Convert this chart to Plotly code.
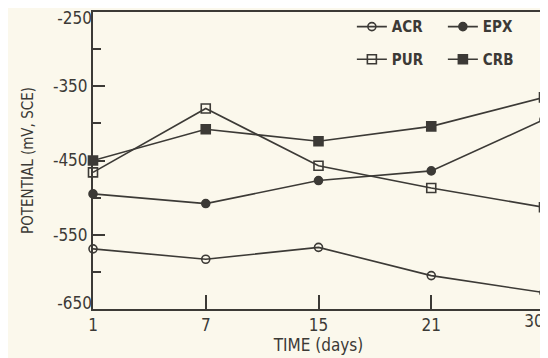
import plotly.graph_objects as go

days = ["1", "7", "15", "21", "30"]
acr = [-569, -583, -567, -605, -628]
epx = [-495, -508, -477, -464, -395]
pur = [-466, -380, -457, -487, -513]
crb = [-450, -408, -424, -404, -365]

ytickvals = [-250, -350, -450, -550, -650]
yticktext = ["-250", "-350", "-450", "-550", "-650"]
yminor = [-300, -400, -500, -600]

ink = "#3c3a36"
bg = "#fbf8ec"
font = "DejaVu Sans Condensed, Liberation Sans, Arial, sans-serif"
yrange = [ytickvals[-1], ytickvals[0]]

fig = go.Figure()
series = [
    ("ACR", acr, "circle-open", 8, "legend"),
    ("EPX", epx, "circle", 8, "legend"),
    ("PUR", pur, "square-open", 9, "legend2"),
    ("CRB", crb, "square", 9, "legend2"),
]
for name, vals, sym, size, lg in series:
    fig.add_trace(go.Scatter(
        x=days, y=vals, name=name, mode="lines+markers",
        line=dict(color=ink, width=1.6),
        marker=dict(symbol=sym, size=size, color=ink,
                    line=dict(color=ink, width=1.6)),
        legend=lg, cliponaxis=False,
    ))
# empty helper traces so the overlay axes (edge labels) are drawn
fig.add_trace(go.Scatter(x=[], y=[], xaxis="x", yaxis="y2", showlegend=False, hoverinfo="skip"))
fig.add_trace(go.Scatter(x=[], y=[], xaxis="x", yaxis="y3", showlegend=False, hoverinfo="skip"))
fig.add_trace(go.Scatter(x=[], y=[], xaxis="x2", yaxis="y", showlegend=False, hoverinfo="skip"))

leg = dict(orientation="h", x=0.574, xanchor="left", yanchor="middle",
           bgcolor="rgba(0,0,0,0)", font=dict(size=15, family=font, weight="bold"),
           entrywidth=46, itemwidth=30, tracegroupgap=0)

common_y = dict(range=yrange, showgrid=False, zeroline=False, showline=False,
                ticks="", tickfont=dict(size=17), automargin=False,
                ticklabeloverflow="allow", overlaying="y", side="left", anchor="x")

fig.update_layout(
    width=540, height=350,
    margin=dict(l=85, r=4, t=4, b=49, autoexpand=False),
    paper_bgcolor=bg, plot_bgcolor=bg,
    font=dict(family=font, color=ink, size=16),
    legend=dict(leg, y=0.95),
    legend2=dict(leg, y=0.84),
    xaxis=dict(type="category", range=[0, 4], showgrid=False, zeroline=False,
               showline=True, linecolor=ink, linewidth=2, mirror=True,
               tickmode="array", tickvals=days[:-1], ticktext=days[:-1],
               ticks="inside", ticklen=14, tickwidth=1.6, tickcolor=ink,
               tickfont=dict(size=17), automargin=False, ticklabeloverflow="allow",
               title=dict(text="TIME (days)", font=dict(size=17), standoff=2)),
    xaxis2=dict(range=[0, 4], showgrid=False, zeroline=False, showline=False,
                tickmode="array", tickvals=[4], ticktext=[days[-1]], ticks="",
                tickfont=dict(size=17), automargin=False, ticklabeloverflow="allow",
                ticklabelshift=-10, overlaying="x", side="bottom", anchor="y"),
    yaxis=dict(range=yrange, showgrid=False, zeroline=False,
               showline=True, linecolor=ink, linewidth=2, mirror=True,
               tickmode="array", tickvals=ytickvals[1:-1], ticktext=yticktext[1:-1],
               ticks="inside", ticklen=12, tickwidth=1.6, tickcolor=ink,
               tickfont=dict(size=17), automargin=False, ticklabeloverflow="allow",
               minor=dict(tickvals=yminor, ticks="inside",
                          ticklen=8, tickwidth=1.6, tickcolor=ink),
               title=dict(text="POTENTIAL (mV, SCE)", font=dict(size=15), standoff=16)),
    yaxis2=dict(common_y, tickmode="array", tickvals=[ytickvals[0]],
                ticktext=[yticktext[0]], ticklabelshift=6),
    yaxis3=dict(common_y, tickmode="array", tickvals=[ytickvals[-1]],
                ticktext=[yticktext[-1]], ticklabelshift=-6),
)

fig.write_html("out.html")
